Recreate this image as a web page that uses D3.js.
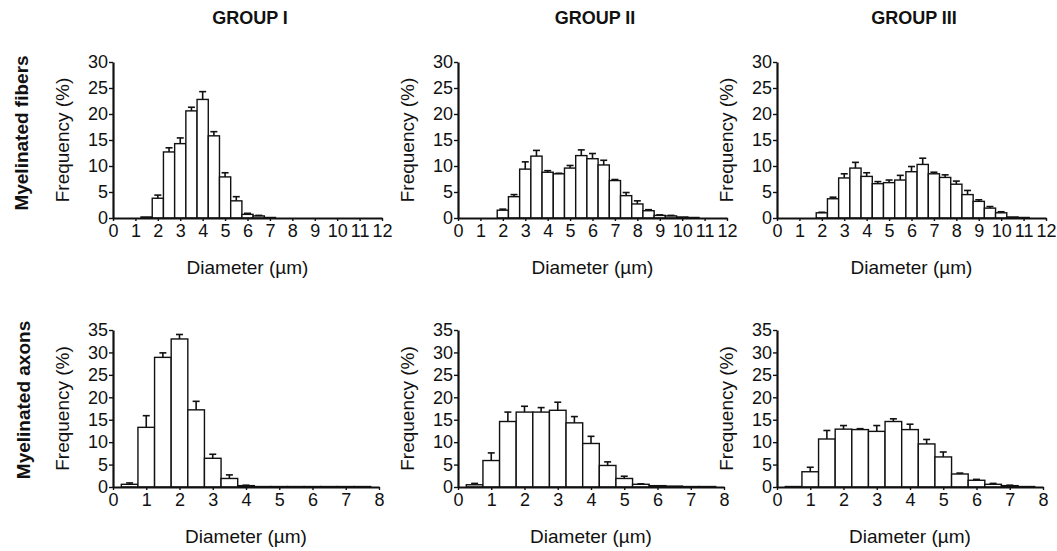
<!DOCTYPE html>
<html>
<head>
<meta charset="utf-8">
<script src="https://cdn.jsdelivr.net/npm/d3@7"></script>
<style>
  body { margin: 0; background: #fff; }
  text { font-family: "Liberation Sans", Arial, Helvetica, sans-serif; fill: #111; }
</style>
</head>
<body>
<div id="chart"></div>
<script>
var chart_width = 1057;
var chart_height = 551;

// Data: frequency (%) per 0.5 um bin, with the upward error bar length
var groups = ['GROUP I', 'GROUP II', 'GROUP III'];
var rows = ['Myelinated fibers', 'Myelinated axons'];

var fiberBins = [0, 0.5, 1, 1.5, 2, 2.5, 3, 3.5, 4, 4.5, 5, 5.5, 6, 6.5, 7, 7.5, 8, 8.5, 9, 9.5, 10, 10.5, 11, 11.5];
var fiberTicks = [0, 1, 2, 3, 4, 5, 6, 7, 8, 9, 10, 11, 12];
var fiberYTicks = [0, 5, 10, 15, 20, 25, 30];

var fibersG1 =    [0, 0, 0, 0.2, 3.8, 12.7, 14.3, 20.6, 22.8, 15.8, 7.9, 3.3, 0.7, 0.4, 0.1, 0, 0, 0, 0, 0, 0, 0, 0, 0];
var fibersG1Err = [0, 0, 0, 0, 0.6, 0.8, 1.1, 0.7, 1.5, 0.8, 0.8, 0.8, 0.2, 0.1, 0, 0, 0, 0, 0, 0, 0, 0, 0, 0];
var fibersG2 =    [0, 0, 0, 0, 1.5, 4.1, 9.4, 11.9, 8.8, 8.5, 9.6, 12.0, 11.4, 10.2, 7.2, 4.3, 2.7, 1.4, 0.5, 0.4, 0.2, 0.1, 0, 0];
var fibersG2Err = [0, 0, 0, 0, 0.2, 0.4, 1.4, 1.1, 0.3, 0.1, 0.5, 1.1, 1.0, 0.9, 0.2, 0.6, 0.6, 0.2, 0.1, 0.1, 0, 0, 0, 0];
var fibersG3 =    [0, 0, 0, 0, 1.0, 3.7, 7.7, 9.6, 8.0, 6.6, 6.8, 7.3, 8.9, 10.3, 8.5, 7.8, 6.5, 4.5, 3.2, 1.9, 1.0, 0.2, 0.1, 0];
var fibersG3Err = [0, 0, 0, 0, 0.1, 0.3, 0.8, 1.1, 0.7, 0.4, 0.5, 0.9, 1.0, 1.2, 0.3, 0.5, 0.6, 0.8, 0.3, 0.3, 0.2, 0, 0, 0];

var axonBins = [0, 0.5, 1, 1.5, 2, 2.5, 3, 3.5, 4, 4.5, 5, 5.5, 6, 6.5, 7, 7.5];
var axonTicks = [0, 1, 2, 3, 4, 5, 6, 7, 8];
var axonYTicks = [0, 5, 10, 15, 20, 25, 30, 35];

var axonsG1 =    [0, 0.6, 13.3, 28.9, 33.0, 17.2, 6.4, 1.9, 0.3, 0.1, 0.1, 0.1, 0.1, 0.1, 0.1, 0.1];
var axonsG1Err = [0, 0.3, 2.6, 1.0, 1.0, 1.9, 0.9, 0.8, 0.1, 0, 0, 0, 0, 0, 0, 0];
var axonsG2 =    [0, 0.5, 5.9, 14.6, 16.7, 16.7, 17.1, 14.3, 9.7, 4.8, 1.9, 0.6, 0.3, 0.2, 0.1, 0.1];
var axonsG2Err = [0, 0.3, 1.7, 2.1, 1.3, 1.0, 1.8, 1.4, 1.6, 0.8, 0.5, 0.1, 0, 0, 0, 0];
var axonsG3 =    [0, 0.1, 3.4, 10.7, 12.9, 12.8, 12.4, 14.6, 12.8, 9.6, 6.7, 2.9, 1.5, 0.6, 0.3, 0.1];
var axonsG3Err = [0, 0, 1.0, 1.9, 0.8, 0.2, 1.3, 0.6, 1.2, 1.0, 1.1, 0.2, 0.2, 0.2, 0.1, 0];

// Layout
var panelLeft = [113, 458, 777];
var rowLayout = [
    {y0: 218, y1: 62, w: 269, bins: fiberBins, xMax: 12, yMax: 30, xticks: fiberTicks, yticks: fiberYTicks,
     vals: [fibersG1, fibersG2, fibersG3], errs: [fibersG1Err, fibersG2Err, fibersG3Err], labelY: 133, labelX: 21},
    {y0: 487, y1: 330, w: 266, bins: axonBins, xMax: 8, yMax: 35, xticks: axonTicks, yticks: axonYTicks,
     vals: [axonsG1, axonsG2, axonsG3], errs: [axonsG1Err, axonsG2Err, axonsG3Err], labelY: 400, labelX: 23}
];

var svg = d3.select('#chart')
    .append('svg')
    .attr('width', chart_width)
    .attr('height', chart_height);

// Group titles
groups.forEach(function(g, i){
    svg.append('text')
        .attr('x', panelLeft[i] + 137)
        .attr('y', 24)
        .attr('text-anchor', 'middle')
        .style('font-weight', 'bold')
        .style('font-size', '18px')
        .text(g);
});

rowLayout.forEach(function(r, ri){

    // Row label
    svg.append('text')
        .attr('transform', 'translate(' + (r.labelX + 7) + ',' + r.labelY + ') rotate(-90)')
        .attr('text-anchor', 'middle')
        .style('font-weight', 'bold')
        .style('font-size', '19px')
        .text(rows[ri]);

    groups.forEach(function(g, gi){
        var left = panelLeft[gi];
        var x_scale = d3.scaleLinear().domain([0, r.xMax]).range([left, left + r.w]);
        var y_scale = d3.scaleLinear().domain([0, r.yMax]).range([r.y0, r.y1]);
        var half = (x_scale(0.5) - x_scale(0)) / 2;

        var data = r.bins.map(function(b, i){
            return {bin: b, value: r.vals[gi][i], err: r.errs[gi][i]};
        });

        var panel = svg.append('g');

        // Bars
        panel.selectAll('rect')
            .data(data.filter(function(d){ return d.value > 0; }))
            .enter()
            .append('rect')
            .attr('x', function(d){ return x_scale(d.bin) - half; })
            .attr('y', function(d){ return y_scale(d.value); })
            .attr('width', half * 2)
            .attr('height', function(d){ return r.y0 - y_scale(d.value); })
            .attr('fill', '#fff')
            .attr('stroke', '#111')
            .attr('stroke-width', 1.4);

        // Error bars (upward only)
        var eb = panel.selectAll('g.err')
            .data(data.filter(function(d){ return d.err > 0; }))
            .enter()
            .append('g');
        eb.append('line')
            .attr('x1', function(d){ return x_scale(d.bin); })
            .attr('x2', function(d){ return x_scale(d.bin); })
            .attr('y1', function(d){ return y_scale(d.value); })
            .attr('y2', function(d){ return y_scale(d.value + d.err); })
            .attr('stroke', '#111')
            .attr('stroke-width', 1.6);
        eb.append('line')
            .attr('x1', function(d){ return x_scale(d.bin) - 3.5; })
            .attr('x2', function(d){ return x_scale(d.bin) + 3.5; })
            .attr('y1', function(d){ return y_scale(d.value + d.err); })
            .attr('y2', function(d){ return y_scale(d.value + d.err); })
            .attr('stroke', '#111')
            .attr('stroke-width', 1.6);

        // Axes
        var x_axis = d3.axisBottom(x_scale)
            .tickValues(r.xticks)
            .tickSizeInner(3)
            .tickSizeOuter(0)
            .tickPadding(3)
            .tickFormat(d3.format('d'));
        var y_axis = d3.axisLeft(y_scale)
            .tickValues(r.yticks)
            .tickSizeInner(4)
            .tickSizeOuter(0)
            .tickPadding(1)
            .tickFormat(d3.format('d'));

        var gx = panel.append('g')
            .attr('transform', 'translate(0,' + r.y0 + ')')
            .call(x_axis);
        var gy = panel.append('g')
            .attr('transform', 'translate(' + left + ',0)')
            .call(y_axis);

        [gx, gy].forEach(function(ax){
            ax.select('.domain').attr('stroke', '#111').attr('stroke-width', 2.2);
            ax.selectAll('.tick line').attr('stroke', '#111').attr('stroke-width', 1.4);
            ax.selectAll('.tick text')
                .style('font-family', '"Liberation Sans", Arial, sans-serif')
                .style('font-size', '18px')
                .attr('fill', '#111');
        });

        // Axis titles
        panel.append('text')
            .attr('x', left + r.w / 2)
            .attr('y', r.y0 + 56)
            .attr('text-anchor', 'middle')
            .style('font-size', '19px')
            .text('Diameter (\u00b5m)');

        panel.append('text')
            .attr('transform', 'translate(' + (left - 44) + ',' + ((r.y0 + r.y1) / 2) + ') rotate(-90)')
            .attr('text-anchor', 'middle')
            .style('font-size', '19px')
            .text('Frequency (%)');
    });
});
</script>
</body>
</html>
